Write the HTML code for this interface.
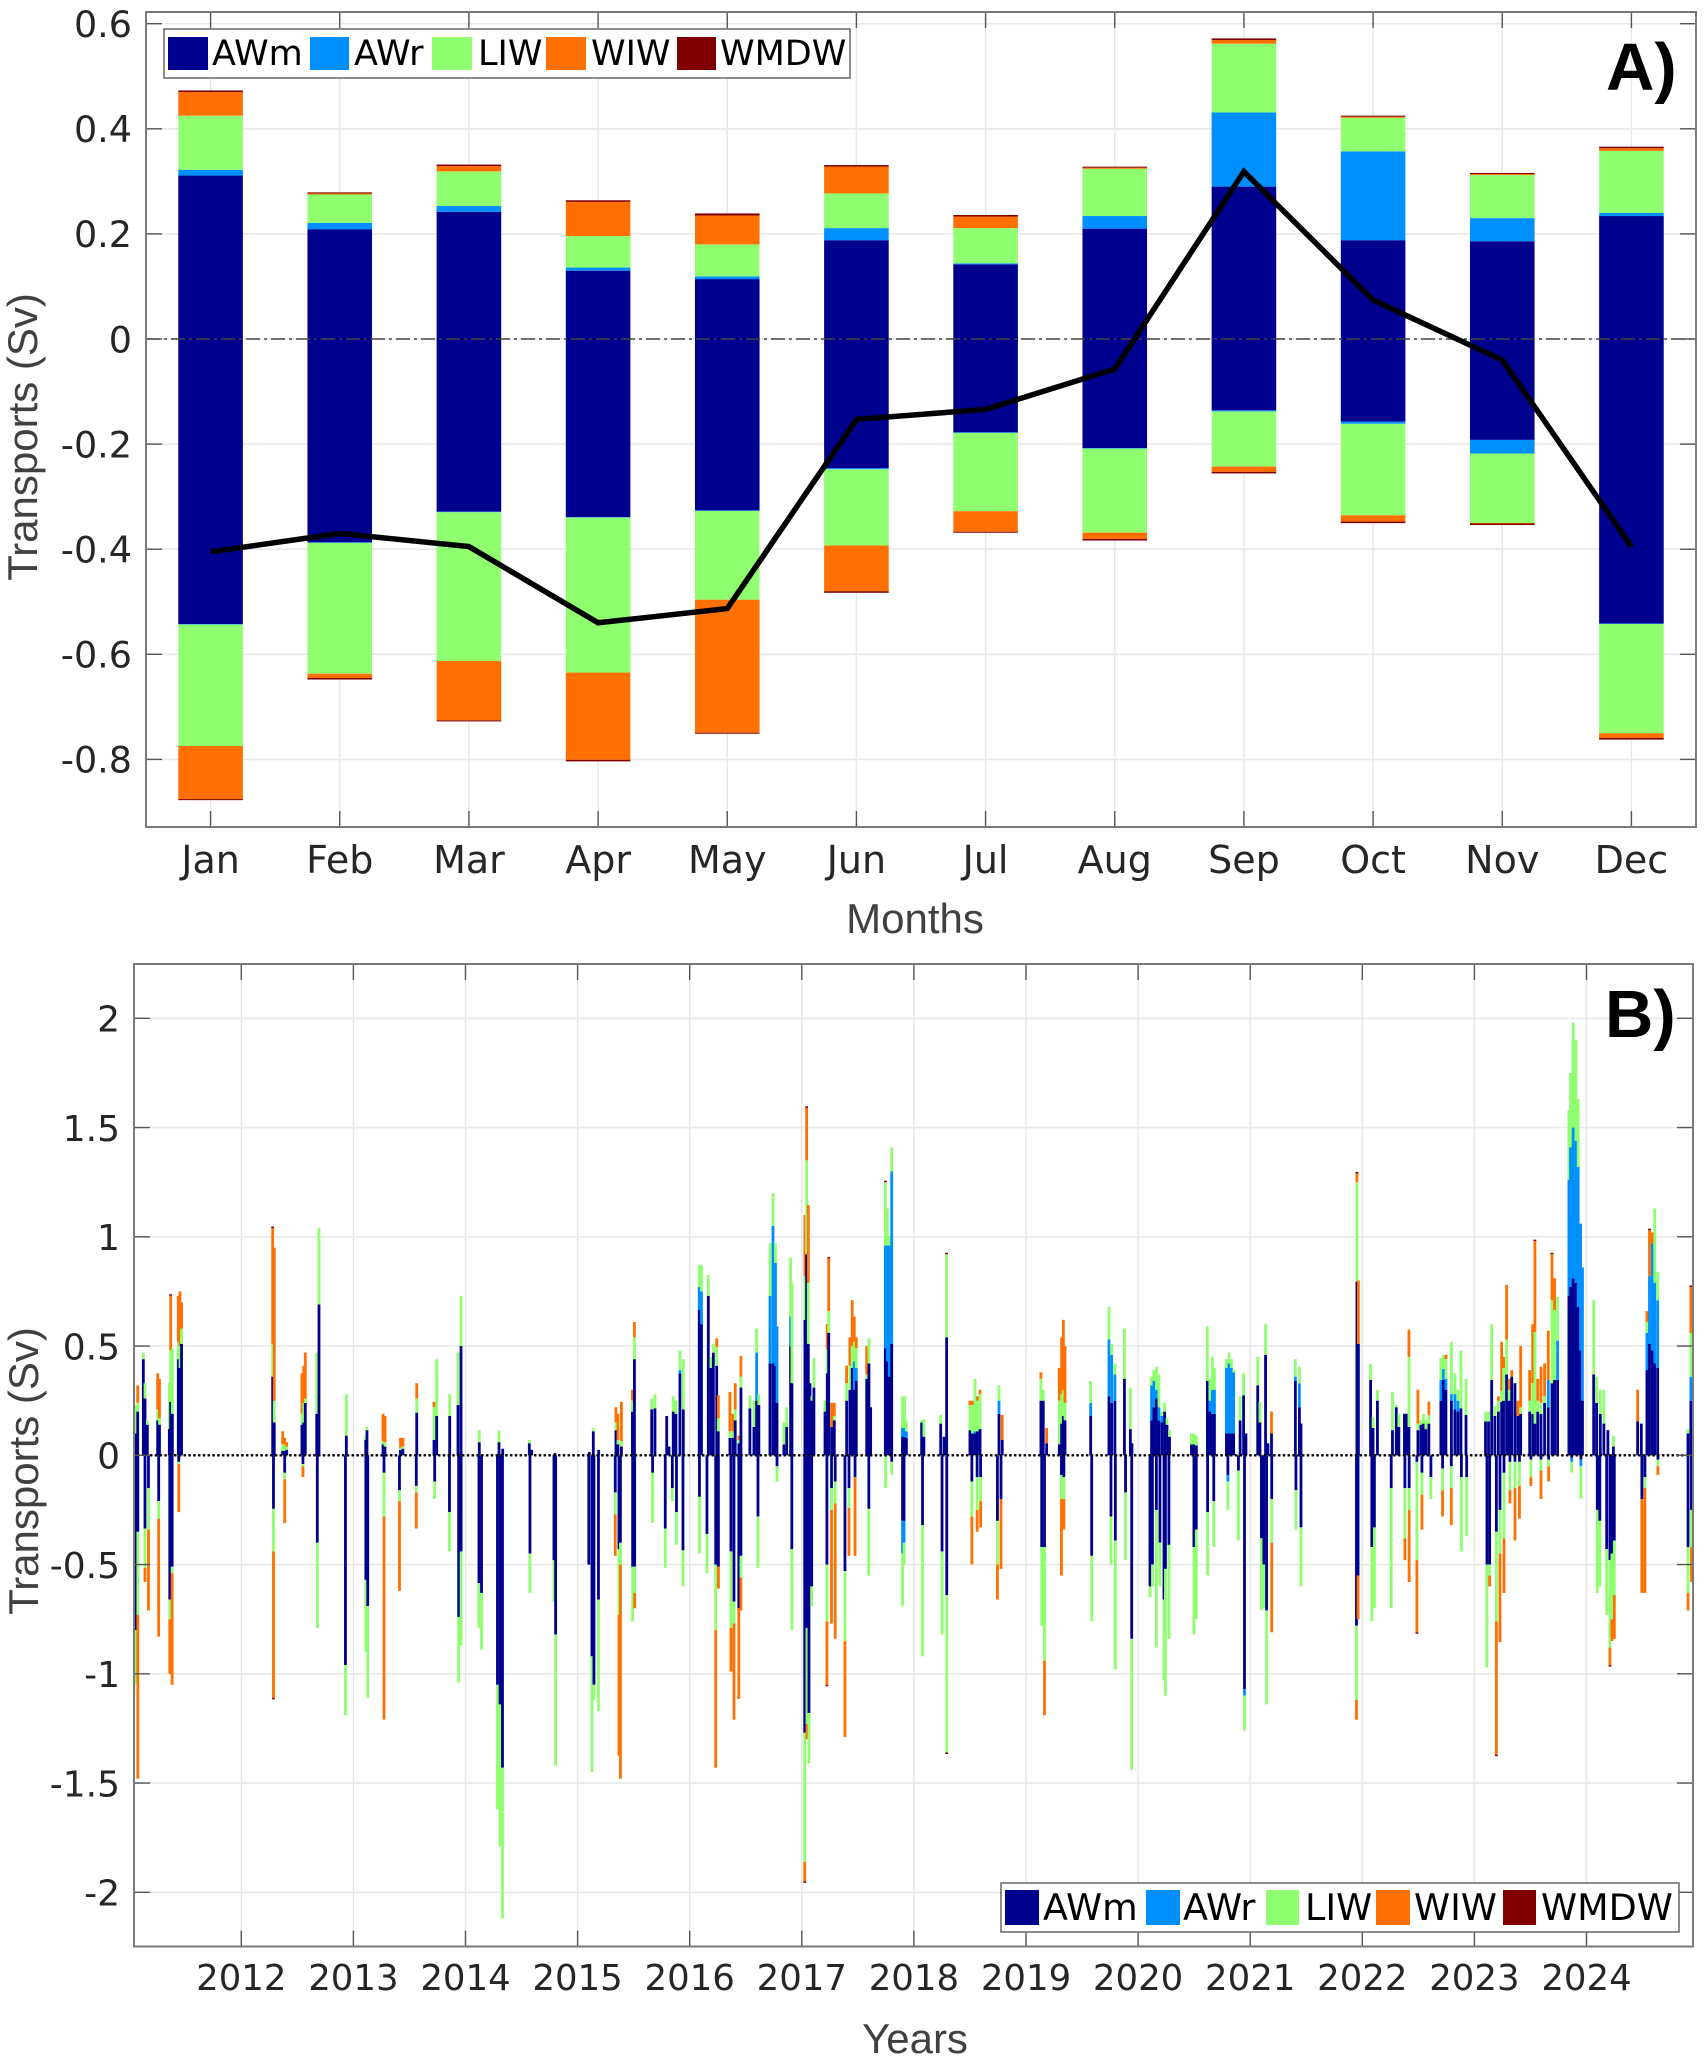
<!DOCTYPE html>
<html lang="en">
<head>
<meta charset="utf-8">
<title>Transports by water mass</title>
<style>
html,body{margin:0;padding:0;background:#fff;}
svg{display:block;}
text{font-family:"DejaVu Sans","Liberation Sans",sans-serif;}
.axis-title{font-family:"Liberation Sans",sans-serif;font-size:42px;fill:#404040;}
.panel-tag{font-family:"Liberation Sans",sans-serif;font-weight:bold;font-size:67px;fill:#000;}
.legend-text{font-size:35px;fill:#000;}
</style>
</head>
<body>
<svg id="figure" xmlns="http://www.w3.org/2000/svg" width="1704" height="2064" viewBox="0 0 1704 2064">
  <rect x="0" y="0" width="1704" height="2064" fill="#fff"/>
  <g id="panelA"></g>
  <g id="panelB"></g>

  <text class="axis-title" x="915" y="933" text-anchor="middle">Months</text>
  <text class="axis-title" transform="translate(37,437) rotate(-90)" text-anchor="middle">Transports (Sv)</text>
  <text class="axis-title" x="915" y="2053" text-anchor="middle">Years</text>
  <text class="axis-title" transform="translate(38,1471) rotate(-90)" text-anchor="middle">Transports (Sv)</text>
  <text class="panel-tag" x="1606" y="90">A)</text>
  <text class="panel-tag" x="1605" y="1037">B)</text>

  <g>
    <rect x="164" y="29" width="686" height="49" fill="#fff" stroke="#666" stroke-width="1.5"/>
    <rect x="168" y="37" width="40" height="33" fill="#00008f"/>
    <text class="legend-text" x="212" y="65">AWm</text>
    <rect x="310" y="37" width="39" height="33" fill="#008fff"/>
    <text class="legend-text" x="354" y="65">AWr</text>
    <rect x="432" y="37" width="40" height="33" fill="#8fff70"/>
    <text class="legend-text" x="478" y="65">LIW</text>
    <rect x="546" y="37" width="40" height="33" fill="#ff7000"/>
    <text class="legend-text" x="591" y="65">WIW</text>
    <rect x="677" y="37" width="39" height="33" fill="#800000"/>
    <text class="legend-text" x="720" y="65">WMDW</text>
  </g>
  <g>
    <rect x="1001" y="1883" width="678" height="49" fill="#fff" stroke="#666" stroke-width="1.5"/>
    <rect x="1005" y="1890" width="34" height="35" fill="#00008f"/>
    <text class="legend-text" x="1043" y="1920" style="font-size:36.5px">AWm</text>
    <rect x="1146" y="1890" width="34" height="35" fill="#008fff"/>
    <text class="legend-text" x="1183" y="1920" style="font-size:36.5px">AWr</text>
    <rect x="1266" y="1890" width="33" height="35" fill="#8fff70"/>
    <text class="legend-text" x="1305" y="1920" style="font-size:36.5px">LIW</text>
    <rect x="1376" y="1890" width="34" height="35" fill="#ff7000"/>
    <text class="legend-text" x="1414" y="1920" style="font-size:36.5px">WIW</text>
    <rect x="1503" y="1890" width="33" height="35" fill="#800000"/>
    <text class="legend-text" x="1541" y="1920" style="font-size:36.5px">WMDW</text>
  </g>
</svg>
<script>
/* ---------- Panel A data ---------- */
const months = ['Jan','Feb','Mar','Apr','May','Jun','Jul','Aug','Sep','Oct','Nov','Dec'];
const aTicksY = [0.6,0.4,0.2,0,-0.2,-0.4,-0.6,-0.8];
const aLabelsY = ['0.6','0.4','0.2','0','-0.2','-0.4','-0.6','-0.8'];
const monthlyPosAWm = [.311,.209,.242,.130,.114,.188,.142,.210,.290,.188,.186,.234];
const monthlyPosAWr = [.011,.012,.011,.006,.005,.023,.002,.024,.141,.169,.044,.006];
const monthlyPosLIW = [.103,.054,.066,.060,.061,.066,.067,.090,.131,.064,.082,.118];
const monthlyPosWIW = [.045,.002,.010,.065,.055,.051,.022,.002,.007,.002,.002,.005];
const monthlyPosWMDW = [.003,.002,.003,.003,.004,.003,.003,.002,.003,.002,.002,.003];
const monthlyNegAWm = [-.5425,-.387,-.3287,-.3388,-.3262,-.246,-.1777,-.2075,-.1358,-.1574,-.192,-.5413];
const monthlyNegAWr = [-.001,-.001,-.001,-.001,-.001,-.002,-.001,-.001,-.002,-.004,-.026,-.001];
const monthlyNegLIW = [-.231,-.249,-.283,-.295,-.169,-.145,-.149,-.160,-.105,-.174,-.132,-.208];
const monthlyNegWIW = [-.101,-.008,-.113,-.166,-.253,-.087,-.039,-.012,-.010,-.012,-.001,-.009];
const monthlyNegWMDW = [-.002,-.003,-.002,-.003,-.002,-.003,-.002,-.003,-.003,-.003,-.003,-.003];
const monthlyNet = [-.405,-.37,-.395,-.54,-.513,-.153,-.134,-.057,.3185,.074,-.04,-.395];

/* ---------- Panel B data (readings per event, one line per calendar year) ---------- */
const bYears = [2012,2013,2014,2015,2016,2017,2018,2019,2020,2021,2022,2023,2024];
const bTicksY = [2,1.5,1,0.5,0,-0.5,-1,-1.5,-2];
const bLabelsY = ['2','1.5','1','0.5','0','-0.5','-1','-1.5','-2'];

const posDates = [
2011.043,2011.056,2011.076,2011.126,2011.141,2011.162,2011.254,2011.270,2011.358,2011.370,2011.385,2011.438,2011.453,2011.467,
2012.280,2012.294,2012.369,2012.387,2012.405,2012.541,2012.557,2012.571,2012.673,2012.693,2012.937,
2013.110,2013.121,2013.264,2013.282,2013.420,2013.442,2013.565,2013.719,2013.743,2013.859,2013.933,2013.960,
2014.123,2014.299,2014.332,2014.569,2014.590,2014.798,
2015.104,2015.140,2015.188,2015.342,2015.360,2015.391,2015.489,2015.507,2015.661,2015.690,2015.795,2015.815,2015.853,2015.877,2015.913,2015.943,
2016.085,2016.105,2016.166,2016.190,2016.211,2016.241,2016.255,2016.359,2016.386,2016.406,2016.439,2016.457,2016.537,2016.573,2016.597,2016.617,2016.716,2016.743,2016.765,2016.779,2016.840,2016.865,2016.900,2016.912,
2017.028,2017.043,2017.058,2017.073,2017.090,2017.108,2017.207,2017.227,2017.240,2017.266,2017.290,2017.400,2017.429,2017.450,2017.468,2017.486,2017.579,2017.599,2017.614,2017.745,2017.763,2017.781,2017.802,2017.898,2017.916,2017.933,
2018.069,2018.089,2018.239,2018.269,2018.292,2018.500,2018.522,2018.545,2018.567,2018.590,2018.759,2018.788,
2019.133,2019.154,2019.184,2019.297,2019.318,2019.333,2019.348,2019.577,2019.740,2019.764,2019.793,2019.878,2019.931,2019.945,
2020.120,2020.141,2020.164,2020.186,2020.213,2020.237,2020.258,2020.280,2020.476,2020.498,2020.520,2020.618,2020.640,2020.663,2020.681,2020.788,2020.811,2020.833,2020.852,2020.910,2020.941,2020.962,
2021.067,2021.087,2021.137,2021.158,2021.190,2021.403,2021.439,2021.453,2021.952,2021.965,
2022.074,2022.096,2022.135,2022.269,2022.303,2022.326,2022.376,2022.398,2022.416,2022.496,2022.523,2022.545,2022.567,2022.594,2022.701,2022.724,2022.746,2022.795,2022.826,2022.853,2022.880,2022.925,
2023.099,2023.126,2023.154,2023.183,2023.214,2023.243,2023.260,2023.287,2023.310,2023.333,2023.362,2023.389,2023.413,2023.493,2023.520,2023.540,2023.565,2023.594,2023.626,2023.659,2023.692,2023.715,2023.742,2023.843,2023.858,2023.881,2023.906,2023.926,2023.947,2023.964,
2024.064,2024.090,2024.123,2024.155,2024.191,2024.240,2024.456,2024.489,2024.539,2024.562,2024.587,2024.609,2024.635,2024.905,2024.931];
const posAWm = [
.18,.10,.20,.44,.26,.14,.16,.14,.12,.245,.19,.44,.40,.51,
.36,.15,.02,.02,.025,.14,.15,.24,.19,.69,.09,
.07,.115,.05,.04,.025,.03,.195,.07,.18,.18,.23,.50,
.06,.06,.03,.055,.025,.01,
.015,.11,.025,.115,.05,.04,.20,.44,.21,.215,.18,.04,.20,.19,.375,.21,
.665,.60,.73,.40,.47,.41,.11,.08,.08,.16,.055,.31,.215,.13,.25,.23,.42,.42,.41,.24,.05,.13,.50,.33,
.62,.92,.51,.33,.25,.31,.20,.375,.56,.13,.16,.25,.30,.40,.30,.34,.35,.42,.22,.49,.43,.36,.51,.085,.085,.08,
.15,.085,.145,.085,.54,.115,.10,.10,.11,.12,.19,.07,
.25,.25,.055,.05,.145,.18,.16,.18,.27,.24,.25,.35,.12,.055,
.16,.22,.26,.16,.15,.20,.14,.085,.05,.05,.045,.34,.20,.19,.19,.10,.10,.10,.10,.16,.275,.10,
.32,.15,.46,.055,.10,.34,.22,.145,.795,.51,
.345,.125,.25,.115,.22,.13,.19,.19,.13,.115,.14,.145,.12,.145,.25,.345,.30,.25,.21,.20,.215,.185,
.155,.155,.345,.18,.20,.245,.25,.37,.25,.36,.33,.18,.19,.20,.19,.145,.20,.19,.24,.22,.33,.345,.345,.73,.77,.81,.79,.68,.48,.25,
.37,.24,.19,.145,.115,.04,.155,.145,.39,.51,.48,.42,.40,.10,.25];
const posAWr = [
0,0,0,0,0,0,0,0,0,0,0,0,0,0,
0,0,0,0,0,0,0,0,0,0,0,
0,0,0,0,0,0,0,0,0,0,0,0,
0,0,0,0,0,0,
0,0,0,0,0,0,0,0,0,0,0,0,0,0,.015,0,
.105,.15,0,0,0,0,0,0,0,0,0,0,0,0,.22,0,.31,.63,.47,.35,0,0,.135,0,
0,0,0,0,0,0,0,0,0,0,0,0,0,0,.13,.06,0,0,0,.47,.53,.60,.79,.04,.04,.03,
0,0,0,0,0,0,0,.01,0,0,.06,0,
0,0,0,0,0,0,0,.06,.26,.22,.12,0,0,0,
.16,.12,.04,.06,.03,0,0,0,0,0,0,0,.05,.11,.11,.30,.32,.30,.28,0,0,0,
0,0,0,0,0,.02,.11,0,0,0,
0,0,0,0,0,0,0,0,0,0,0,0,0,0,.095,.05,.05,.03,.07,.05,0,0,
0,0,0,0,0,0,0,0,0,0,0,0,0,0,0,0,0,0,0,.125,0,0,.18,.53,.64,.69,.65,.64,.58,.61,
0,0,0,0,0,0,0,0,.17,.31,.49,.37,.31,0,.11];
const posLIW = [
0,.13,.04,.03,.07,.02,.05,.03,.21,.235,.30,.08,.10,.07,
.15,.10,.03,.03,.015,.05,.09,.02,.28,.35,.19,
.02,.015,.015,.02,.01,.01,.065,.15,.26,.10,.24,.23,
.055,.055,0,.015,0,0,
0,.015,0,.035,.02,.025,.05,.10,.05,.065,0,0,.07,.06,.09,.23,
.10,.12,.095,.05,.04,.085,.06,.03,.03,.05,.015,.05,.06,.12,.11,.05,.24,.15,.09,0,.10,.09,.27,.46,
.20,.43,.28,0,.02,.135,.05,.11,.10,0,.02,.08,.11,.10,.09,.09,.02,.115,0,.29,.17,.04,.11,.145,.145,.05,
.01,.08,.04,0,.38,.115,.13,.24,.14,.16,.07,0,
.10,.05,0,.20,.135,.12,.08,.10,.15,.05,.05,.23,.19,0,
.04,.05,.105,.15,.02,.04,.03,.03,.05,.05,.045,.25,.10,.15,.10,.04,.05,.04,.01,.11,.10,0,
.13,.095,.14,0,0,.08,.075,0,.455,0,
.075,.05,.05,.175,.01,.06,0,0,.32,.03,.02,.045,.04,.04,.10,.065,.09,.24,.095,.05,.265,.165,
.045,.045,.255,.045,.05,.05,.15,.16,.05,0,0,0,.03,.05,.14,.42,.05,.05,.03,0,.38,.32,.20,.32,.34,.48,.46,.31,0,0,
.34,.12,.11,.155,0,.05,0,0,.05,0,0,.34,.13,.02,.20];
const posWIW = [
0,0,.08,0,0,0,.165,.18,0,.25,0,.21,.25,.12,
.53,.70,.06,.03,.02,.185,.17,.21,0,0,0,
0,0,.125,.12,.045,.04,.07,.025,0,0,0,0,
0,0,0,0,0,0,
0,0,0,.07,.12,.18,.05,.07,0,0,0,0,0,0,0,0,
0,0,0,0,0,.04,.105,.18,.08,.12,.02,.095,0,0,0,0,0,0,0,0,0,0,0,0,
.28,.24,.355,0,0,0,0,.115,.24,.11,.06,.08,.13,.21,.115,.05,.13,0,0,0,0,0,0,0,0,0,
0,0,0,0,0,.02,.02,0,.02,.02,0,.115,
.03,0,.07,.15,.26,.32,.26,0,0,0,0,0,0,0,
0,0,0,0,0,0,0,0,0,0,0,0,0,0,0,0,0,0,0,0,0,0,
0,0,0,0,.10,0,0,0,.04,.29,
0,0,0,0,0,0,0,0,.125,.155,0,0,0,.06,0,0,.02,0,0,0,0,0,
0,0,0,0,.02,.225,.05,.25,.05,.03,0,.07,.28,.14,.27,.415,.10,.165,.15,.225,.21,.145,0,0,0,0,0,0,0,0,
0,0,0,0,0,0,.145,0,.05,.21,.05,0,0,0,.21];

const negDates = [
2011.043,2011.058,2011.077,2011.141,2011.172,2011.263,2011.362,2011.383,2011.442,
2012.287,2012.387,2012.550,2012.678,2012.929,
2013.111,2013.128,2013.273,2013.411,2013.561,2013.725,2013.857,2013.939,2013.961,
2014.120,2014.143,2014.285,2014.308,2014.330,2014.575,2014.789,2014.804,
2015.100,2015.128,2015.146,2015.186,2015.336,2015.369,2015.382,2015.491,2015.509,2015.669,2015.782,2015.845,2015.882,2015.940,
2016.087,2016.154,2016.232,2016.256,2016.368,2016.395,2016.438,2016.457,2016.609,2016.779,2016.911,
2017.026,2017.046,2017.064,2017.088,2017.224,2017.265,2017.298,2017.385,2017.421,2017.475,2017.598,2017.748,2017.802,2017.899,2017.912,
2018.077,2018.251,2018.293,2018.517,2018.564,2018.595,2018.745,2018.777,
2019.140,2019.165,2019.316,2019.338,2019.586,2019.758,2019.797,2019.888,2019.943,
2020.106,2020.128,2020.163,2020.195,2020.231,2020.244,2020.275,2020.498,2020.519,2020.620,2020.675,2020.801,2020.895,2020.949,
2021.100,2021.122,2021.146,2021.192,2021.408,2021.453,2021.948,2021.962,
2022.085,2022.108,2022.258,2022.380,2022.418,2022.487,2022.532,2022.612,2022.716,2022.794,2022.884,2022.931,
2023.112,2023.136,2023.196,2023.228,2023.264,2023.317,2023.362,2023.402,2023.504,2023.594,2023.662,2023.868,2023.950,
2024.096,2024.119,2024.180,2024.209,2024.227,2024.248,2024.494,2024.521,2024.637,2024.906,2024.936];
const negAWm = [
-.55,-.80,-.35,-.335,-.15,-.21,-.66,-.51,-.03,
-.245,-.08,-.04,-.40,-.96,
-.57,-.69,-.08,-.16,-.14,-.12,-.26,-.74,-.44,
-.585,-.63,-1.05,-1.14,-1.43,-.45,-.48,-.82,
-.50,-.92,-1.05,-.66,-.17,-.43,-.40,-.51,-.51,-.08,-.335,-.15,-.26,-.435,
-.19,-.36,-.50,-.51,-.44,-.67,-.70,-.46,-.28,-.05,-.43,
-1.27,-.79,-1.18,-.60,-.50,-.15,-.12,-.53,-.15,-.10,-.245,0,-.03,-.30,-.30,
-.32,-.44,-.64,-.12,-.10,-.10,-.30,-.20,
-.42,-.42,-.09,-.10,-.46,-.28,-.39,-.17,-.84,
-.60,-.50,-.25,-.40,-.66,-.52,-.41,-.42,-.34,-.26,-.21,-.09,-.07,-1.07,
-.38,-.50,-.71,-.20,-.16,-.33,-.78,-.55,
-.42,-.33,-.15,-.15,-.15,-.03,-.08,-.10,-.06,-.05,-.10,-.10,
-.50,-.50,-.35,-.25,-.08,-.03,-.03,-.03,-.02,-.02,-.02,-.01,-.02,
-.25,-.30,-.43,-.48,-.45,-.39,-.20,-.10,-.02,-.42,-.25];
const negAWr = [
0,0,0,0,0,0,0,0,0,
0,0,0,0,0,
0,0,0,0,0,0,0,0,0,
0,0,0,0,0,0,0,0,
0,0,0,0,0,0,0,0,0,0,0,0,0,0,
0,0,0,0,0,0,0,0,0,0,0,
0,0,0,0,0,0,0,0,0,0,0,0,0,-.15,-.10,
0,0,0,0,0,0,0,0,
0,0,0,0,0,0,0,0,0,
0,0,0,0,0,0,0,0,0,0,0,-.03,0,-.03,
0,0,0,0,0,0,0,0,
0,0,0,0,0,0,0,0,0,0,0,0,
0,0,0,0,0,0,0,0,0,0,0,-.02,-.03,
0,0,0,0,0,0,0,0,0,0,0];
const negLIW = [
-.55,-.25,-.38,-.18,-.19,-.08,-.09,-.03,-.01,
-.195,-.03,-.01,-.39,-.23,
-.33,-.42,-.20,-.05,-.03,-.08,-.18,-.30,-.43,
-.205,-.26,-.57,-.65,-.69,-.18,-.19,-.60,
0,-.53,-.07,-.51,-.10,-.30,-.10,-.25,-.12,-.23,-.18,-.06,-.15,-.165,
-.26,-.18,-.30,0,-.35,-.10,0,-.10,-.235,-.07,-.37,
-.59,-.44,-.23,-.09,-.26,-.10,-.10,-.32,-.09,0,-.305,-.15,-.06,-.24,-.10,
-.60,-.38,-.72,-.16,-.15,-.11,-.20,0,
-.36,-.52,-.11,-.10,-.30,-.22,-.59,-.31,-.60,
-.05,-.10,-.63,-.20,-.37,-.58,-.43,-.40,-.41,-.29,-.21,-.13,-.32,-.16,
-.33,-.20,-.43,-.20,-.18,-.27,-.34,0,
-.34,-.37,-.55,-.23,-.10,-.45,-.10,-.10,-.10,-.10,-.34,-.27,
-.47,-.05,-.41,-.20,-.30,-.13,-.12,-.11,-.08,-.05,-.03,-.05,-.15,
-.38,-.30,-.30,-.40,-.30,-.25,0,-.05,-.03,-.21,-.17];
const negWIW = [
0,0,-.75,-.065,-.37,-.54,-.25,-.51,-.22,
-.67,-.20,-.05,0,0,
0,0,-.93,-.41,-.165,0,0,0,0,
0,0,0,0,0,0,0,0,
0,0,0,0,-.19,-.645,-.98,0,-.07,0,0,0,0,0,
0,0,-.63,-.10,-.20,-.44,-.415,-.15,0,0,0,
-.09,-.07,0,0,-.29,-.52,-.62,-.44,-.22,-.36,0,0,0,0,0,
0,0,0,-.22,-.10,-.12,-.16,-.32,
0,-.25,-.35,-.14,0,0,0,0,0,
0,0,0,0,0,0,0,0,0,0,0,0,0,0,
0,0,0,-.41,0,0,-.09,-.20,
0,0,0,-.10,-.33,-.33,-.16,0,-.12,-.17,0,0,
0,-.05,-.61,-.405,-.25,-.06,-.24,-.15,-.04,-.13,-.07,0,0,
0,0,0,-.08,-.10,-.20,-.43,-.48,-.04,-.08,-.16];

/* WMDW only shows as tiny dark tips on a handful of events */
const wmdwPosDates = [2011.370,2012.280,2017.043,2017.240,2017.745,2018.292,2021.952,2023.540,2023.692,2024.562,2024.931];
const wmdwPosValues = [.007,.007,.007,.007,.007,.007,.007,.007,.007,.007,.007];
const wmdwNegDates = [2012.287,2017.026,2017.224,2018.293,2022.487,2023.196,2024.209];
const wmdwNegValues = [-.007,-.007,-.007,-.007,-.007,-.007,-.007];

/* ---------- Drawing ---------- */
const SVGNS = 'http://www.w3.org/2000/svg';
const COLORS = {AWm:'#00008f',AWr:'#008fff',LIW:'#8fff70',WIW:'#ff7000',WMDW:'#800000'};
const LAYER_ORDER = ['AWm','AWr','LIW','WIW','WMDW'];
const A = {left:146,right:1696,top:12,bottom:827};
const B = {left:134,right:1693,top:964,bottom:1946.5};

function xA(month){ return A.left + (month - 0.5) * (A.right - A.left) / 12; }
function yA(v){ return 339 - v * 525.5; }
function xB(year){ return 241.3 + (year - 2012) * 112.1; }
function yB(v){ return 1455.3 - v * 218.5; }

function make(tag, attrs, parent){
  const el = document.createElementNS(SVGNS, tag);
  for (const k in attrs) el.setAttribute(k, attrs[k]);
  parent.appendChild(el);
  return el;
}
function drawRect(parent, x0, x1, y0, y1, fill, name){
  const el = make('rect', {x:x0, y:Math.min(y0,y1), width:x1-x0, height:Math.abs(y1-y0), fill:fill}, parent);
  
  
  return el;
}
function drawFrame(parent, box, xTicks, yTicks, xLab, yLab, fontX, fontY, yLabelRight, xBaseline, prefix){
  xTicks.forEach(function(x, i){
    [[box.top, box.top + 16], [box.bottom - 16, box.bottom]].forEach(function(seg){
      const el = make('line', {x1:x, x2:x, y1:seg[0], y2:seg[1], stroke:'#555', 'stroke-width':1.4}, parent);
      
      
    });
    const t = make('text', {x:x, y:xBaseline, 'text-anchor':'middle', 'font-size':fontX, fill:'#262626'}, parent);
    t.textContent = xLab[i];
    
    
  });
  yTicks.forEach(function(y, i){
    [[box.left, box.left + 16], [box.right - 16, box.right]].forEach(function(seg){
      const el = make('line', {x1:seg[0], x2:seg[1], y1:y, y2:y, stroke:'#555', 'stroke-width':1.4}, parent);
      
      
    });
    const t = make('text', {x:yLabelRight, y:y + 13.3, 'text-anchor':'end', 'font-size':fontY, fill:'#262626'}, parent);
    t.textContent = yLab[i];
    
    
  });
  const frame = make('rect', {x:box.left, y:box.top, width:box.right-box.left, height:box.bottom-box.top, fill:'none', stroke:'#7a7a7a', 'stroke-width':2}, parent);
  
  
}
function drawGrid(parent, box, xs, ys, prefix){
  xs.forEach(function(x){
    const el = make('line', {x1:x, x2:x, y1:box.top, y2:box.bottom, stroke:'#e6e6e6', 'stroke-width':1.4}, parent);
    
    
  });
  ys.forEach(function(y){
    const el = make('line', {x1:box.left, x2:box.right, y1:y, y2:y, stroke:'#e8e8e8', 'stroke-width':1.6}, parent);
    
    
  });
}

/* Panel A */
(function(){
  const g = document.getElementById('panelA');
  const xs = months.map(function(m, i){ return xA(i + 1); });
  const ys = aTicksY.map(yA);
  drawGrid(g, A, xs, ys, 'panel-a');
  const pos = {AWm:monthlyPosAWm,AWr:monthlyPosAWr,LIW:monthlyPosLIW,WIW:monthlyPosWIW,WMDW:monthlyPosWMDW};
  const neg = {AWm:monthlyNegAWm,AWr:monthlyNegAWr,LIW:monthlyNegLIW,WIW:monthlyNegWIW,WMDW:monthlyNegWMDW};
  months.forEach(function(m, i){
    const x0 = xA(i + 1 - 0.25), x1 = xA(i + 1 + 0.25);
    let up = 0, down = 0;
    LAYER_ORDER.forEach(function(s){
      const a = up + pos[s][i];
      drawRect(g, x0, x1, yA(up), yA(a), COLORS[s], 'bar-' + m.toLowerCase() + '-' + s.toLowerCase() + '-positive');
      up = a;
      const b = down + neg[s][i];
      drawRect(g, x0, x1, yA(down), yA(b), COLORS[s], 'bar-' + m.toLowerCase() + '-' + s.toLowerCase() + '-negative');
      down = b;
    });
  });
  const zero = make('line', {x1:A.left, x2:A.right, y1:yA(0), y2:yA(0), stroke:'#444', 'stroke-width':1.6, 'stroke-dasharray':'14 4 3 4'}, g);
  
  
  const pts = monthlyNet.map(function(v, i){ return xA(i + 1) + ',' + yA(v); }).join(' ');
  const net = make('polyline', {points:pts, fill:'none', stroke:'#000', 'stroke-width':5.5, 'stroke-linejoin':'miter'}, g);
  
  
  drawFrame(g, A, xs, ys, months, aLabelsY, 38, 36.5, 132, 873, 'panel-a');
})();

/* Panel B */
(function(){
  const g = document.getElementById('panelB');
  const xs = bYears.map(xB);
  const ys = bTicksY.map(yB);
  drawGrid(g, B, xs, ys, 'panel-b');
  const W = 2.8;
  const tipsPos = {};
  wmdwPosDates.forEach(function(d, i){ tipsPos[d] = wmdwPosValues[i]; });
  const tipsNeg = {};
  wmdwNegDates.forEach(function(d, i){ tipsNeg[d] = wmdwNegValues[i]; });
  function stack(dates, a, b, c, d, tips, sign){
    dates.forEach(function(date, i){
      const cx = xB(date);
      const x0 = Math.max(B.left, cx - W / 2), x1 = Math.min(B.right, cx + W / 2);
      const vals = [a[i] || 0, b[i] || 0, c[i] || 0, d[i] || 0, tips[date] || 0];
      let base = 0;
      vals.forEach(function(v, k){
        if (!v) return;
        const top = base + v;
        drawRect(g, x0, x1, yB(base), yB(top), COLORS[LAYER_ORDER[k]], 'stick-' + sign + '-' + LAYER_ORDER[k].toLowerCase());
        base = top;
      });
    });
  }
  stack(posDates, posAWm, posAWr, posLIW, posWIW, tipsPos, 'positive');
  stack(negDates, negAWm, negAWr, negLIW, negWIW, tipsNeg, 'negative');
  const zero = make('line', {x1:B.left + 16, x2:B.right, y1:yB(0), y2:yB(0), stroke:'#000', 'stroke-width':2.4, 'stroke-dasharray':'2.4 2.4'}, g);
  
  
  drawFrame(g, B, xs, ys, bYears.map(String), bLabelsY, 35.5, 36, 120, 1990, 'panel-b');
})();
</script>
</body>
</html>
